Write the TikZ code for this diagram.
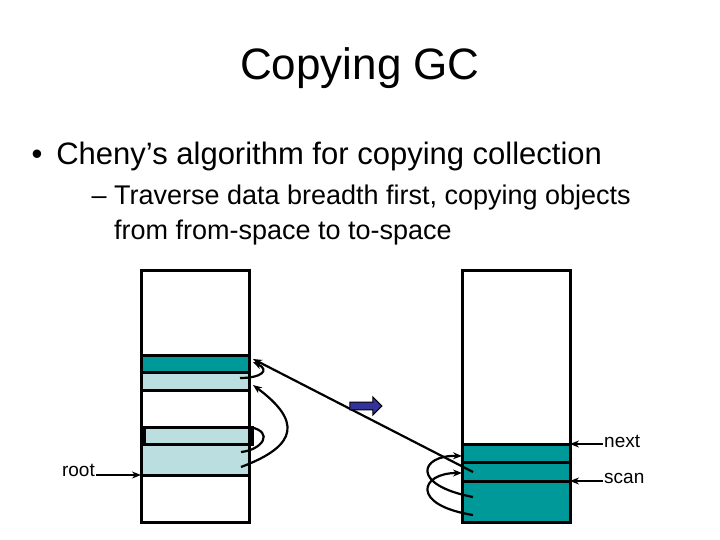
\documentclass[tikz,border=0pt]{standalone}
\usepackage{fontspec}
\setmainfont{Liberation Sans}
\usetikzlibrary{arrows.meta,shapes.arrows}
\definecolor{teal2}{HTML}{009999}
\definecolor{light}{HTML}{BBDFE0}
\definecolor{navy}{HTML}{333399}
\begin{document}
\begin{tikzpicture}[x=1pt,y=-1pt,
  box/.style={draw,line width=3pt},
  band/.style={draw,line width=3pt},
  ptr/.style={line width=2.2pt,-{Stealth[length=9pt,width=7pt]}},
  crv/.style={line width=2.2pt}]
\useasboundingbox (0,0) rectangle (720,540);
\node[font=\fontsize{44}{50}\selectfont] (title) at (360,68) {Copying GC};
\node[anchor=west,font=\fontsize{31}{36}\selectfont] (b1) at (28,156) {•\hspace{14pt}Cheny’s algorithm for copying collection};
\node[anchor=west,font=\fontsize{27}{32}\selectfont] (b2) at (88,198) {– Traverse data breadth first, copying objects};
\node[anchor=west,font=\fontsize{27}{32}\selectfont] (b3) at (88,233) {\hphantom{– }from from-space to to-space};
% from-space
\fill[teal2] (141,355) rectangle (249,372);
\fill[light] (141,372) rectangle (249,390);
\fill[light] (141,427) rectangle (249,475);
\draw[band] (141,355) -- (249,355) (141,372) -- (249,372) (141,390) -- (249,390);
\draw[band] (144,427) rectangle (252,444);
\draw[band] (141,475) -- (249,475);
\draw[box] (141,270) rectangle (249,522);
% to-space
\fill[teal2] (462,444) rectangle (570,522);
\draw[band] (462,444) -- (570,444) (462,462) -- (570,462) (462,481) -- (570,481);
\draw[box] (462,270) rectangle (570,522);
% root
\coordinate (rootE) at (141,475);
\node[anchor=east,font=\fontsize{19}{22}\selectfont,inner sep=1pt] (root) at (96,470) {root};
\draw[ptr] (root.east|-rootE) -- (rootE);
% next/scan
\node[anchor=west,font=\fontsize{19}{22}\selectfont,inner sep=1pt] (next) at (603,441) {next};
\node[anchor=west,font=\fontsize{19}{22}\selectfont,inner sep=1pt] (scan) at (603,478) {scan};
\coordinate (nextE) at (570,444);
\coordinate (scanE) at (570,481);
\draw[ptr] (next.west|-nextE) -- (nextE);
\draw[ptr] (scan.west|-scanE) -- (scanE);
% long pointer
\coordinate (ls) at (473,472);
\coordinate (le) at (253,359);
\draw[ptr] (ls) -- (le);
% hook arrows in from-space
\coordinate (h1s) at (240,378); \coordinate (h1e) at (253,362);
\draw[crv,-{Stealth[length=9pt,width=7pt]}] (h1s) .. controls (262,378) and (270,370) .. (h1e);
\coordinate (h2s) at (241,452); \coordinate (h2e) at (250,427);
\draw[crv] (h2s) .. controls (262,450) and (275,432) .. (h2e);
\coordinate (h3s) at (241,467); \coordinate (h3e) at (253,385);
\draw[ptr] (h3s) .. controls (300,445) and (300,420) .. (h3e);
% loops in to-space
\coordinate (l1s) at (473,497); \coordinate (l1e) at (462,456);
\draw[ptr] (l1s) .. controls (410,485) and (420,455) .. (l1e);
\coordinate (l2s) at (473,515); \coordinate (l2e) at (462,473);
\draw[ptr] (l2s) .. controls (410,505) and (420,473) .. (l2e);
% blue block arrow
\node[single arrow,draw=black,fill=navy,minimum height=32pt,minimum width=18pt,single arrow head extend=2pt,inner sep=1pt,line width=1pt] (blk) at (364,406) {};
\end{tikzpicture}
\end{document}
